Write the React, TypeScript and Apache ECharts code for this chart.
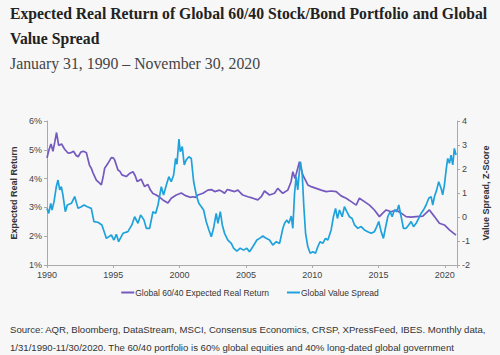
import React, { useEffect, useRef } from "react";
import * as echarts from "echarts";

const titleLine1 = "Expected Real Return of Global 60/40 Stock/Bond Portfolio and Global";
const titleLine2 = "Value Spread";
const subtitle = "January 31, 1990 – November 30, 2020";
const footLine1 = "Source: AQR, Bloomberg, DataStream, MSCI, Consensus Economics, CRSP, XPressFeed, IBES. Monthly data,";
const footLine2 = "1/31/1990-11/30/2020. The 60/40 portfolio is 60% global equities and 40% long-dated global government";

const seriesNames = ["Global 60/40 Expected Real Return", "Global Value Spread"];
const leftAxisName = "Expected Real Return";
const rightAxisName = "Value Spread, Z-Score";

// Global 60/40 expected real return (%), by decimal year
const returnDates = [
  1990.0, 1990.15, 1990.3, 1990.45, 1990.6, 1990.72, 1990.88, 1991.1, 1991.33, 1991.6, 1991.8,
  1992.0, 1992.2, 1992.35, 1992.55, 1992.75, 1992.97, 1993.2, 1993.35, 1993.47, 1993.72, 1993.97,
  1994.1, 1994.25, 1994.35, 1994.6, 1994.85, 1995.0, 1995.1, 1995.35, 1995.5, 1995.65, 1995.98,
  1996.23, 1996.48, 1996.65, 1996.8, 1997.1, 1997.36, 1997.6, 1997.8, 1997.99, 1998.24, 1998.5,
  1998.74, 1999.12, 1999.37, 1999.75, 2000.13, 2000.3, 2000.5, 2000.8, 2001.0, 2001.2, 2001.38,
  2001.76, 2002.13, 2002.4, 2002.64, 2003.01, 2003.2, 2003.39, 2003.6, 2003.77, 2004.14, 2004.4,
  2004.6, 2004.77, 2005.15, 2005.52, 2005.9, 2006.16, 2006.4, 2006.78, 2007.16, 2007.4, 2007.78,
  2008.16, 2008.41, 2008.54, 2008.7, 2009.04, 2009.29, 2009.67, 2009.92, 2010.3, 2010.68, 2011.05,
  2011.43, 2011.81, 2012.18, 2012.56, 2012.94, 2013.32, 2013.56, 2013.94, 2014.32, 2014.69,
  2015.07, 2015.32, 2015.58, 2015.95, 2016.33, 2016.71, 2017.08, 2017.46, 2017.84, 2018.34,
  2018.84, 2019.22, 2019.59, 2019.97, 2020.35, 2020.72, 2020.85,
];
const returnValues = [
  4.72, 5.0, 5.2, 4.95, 5.3, 5.6, 5.15, 5.2, 5.02, 4.88, 4.9,
  4.95, 4.8, 4.76, 4.92, 4.95, 4.9, 4.47, 4.35, 4.2, 3.95, 3.84,
  3.78, 4.1, 4.36, 4.53, 4.73, 4.72, 4.65, 4.3, 4.25, 4.13, 4.07,
  4.18, 4.24, 4.1, 3.9, 3.98, 3.72, 3.8, 3.6, 3.48, 3.43, 3.35,
  3.26, 3.15, 3.32, 3.43, 3.5, 3.45, 3.4, 3.35, 3.37, 3.35, 3.43,
  3.49, 3.6, 3.62, 3.55, 3.6, 3.55, 3.49, 3.62, 3.6, 3.55, 3.6,
  3.5, 3.43, 3.37, 3.32, 3.26, 3.37, 3.57, 3.43, 3.49, 3.66, 3.49,
  3.6, 3.9, 4.24, 4.0, 4.59, 4.13, 3.78, 3.72, 3.66, 3.6, 3.55,
  3.57, 3.55, 3.4, 3.32, 3.2, 3.08, 3.32, 3.2, 3.08, 2.91,
  2.68, 2.8, 2.91, 2.85, 2.91, 2.8, 2.68, 2.66, 2.68, 2.7,
  2.91, 2.68, 2.45, 2.39, 2.22, 2.08, 2.04,
];

// Global value spread (z-score), by decimal year
const spreadDates = [
  1990.0, 1990.13, 1990.28, 1990.38, 1990.53, 1990.7, 1990.83, 1990.96, 1991.08, 1991.2, 1991.38,
  1991.53, 1991.84, 1992.09, 1992.34, 1992.59, 1992.79, 1993.04, 1993.34, 1993.54, 1993.84, 1994.14,
  1994.35, 1994.48, 1994.85, 1995.05, 1995.23, 1995.4, 1995.73, 1996.1, 1996.4, 1996.61, 1996.86,
  1997.06, 1997.31, 1997.49, 1997.74, 1997.99, 1998.19, 1998.37, 1998.62, 1998.79, 1999.0, 1999.19,
  1999.37, 1999.55, 1999.7, 1999.8, 1999.95, 2000.05, 2000.2, 2000.35, 2000.5, 2000.7, 2000.88,
  2001.06, 2001.26, 2001.45, 2001.64, 2001.81, 2002.01, 2002.21, 2002.39, 2002.56, 2002.76, 2002.89,
  2003.07, 2003.22, 2003.39, 2003.64, 2003.9, 2004.07, 2004.32, 2004.57, 2004.82, 2005.07, 2005.27,
  2005.52, 2005.83, 2006.03, 2006.28, 2006.53, 2006.78, 2007.03, 2007.29, 2007.54, 2007.79, 2007.92,
  2008.09, 2008.24, 2008.42, 2008.54, 2008.67, 2008.79, 2008.91, 2009.04, 2009.12, 2009.25, 2009.37,
  2009.5, 2009.67, 2009.85, 2010.05, 2010.25, 2010.42, 2010.6, 2010.8, 2011.0, 2011.18, 2011.43,
  2011.6, 2011.76, 2011.9, 2012.06, 2012.26, 2012.43, 2012.61, 2012.81, 2013.01, 2013.19, 2013.44,
  2013.69, 2013.94, 2014.19, 2014.45, 2014.69, 2014.87, 2015.02, 2015.2, 2015.37, 2015.52, 2015.7,
  2015.88, 2016.03, 2016.2, 2016.38, 2016.53, 2016.71, 2016.88, 2017.08, 2017.28, 2017.46, 2017.64,
  2017.84, 2018.03, 2018.21, 2018.39, 2018.59, 2018.79, 2018.97, 2019.09, 2019.22, 2019.39, 2019.54,
  2019.72, 2019.84, 2019.97, 2020.1, 2020.22, 2020.35, 2020.47, 2020.6, 2020.72, 2020.85,
];
const spreadValues = [
  0.36, 0.15, 0.57, 0.29, 0.64, 1.26, 1.54, 1.13, 1.26, 0.92, 0.22,
  0.5, 0.57, 0.85, 0.36, 0.43, 0.5, 0.43, 0.36, -0.19, -0.22, -0.33,
  -0.68, -0.89, -0.75, -0.96, -0.72, -1.03, -0.68, -0.61, -0.33, 0.01, -0.26,
  0.08, -0.12, -0.47, -0.47, 0.22, 0.15, 0.5, 1.26, 0.92, 1.33, 1.68,
  1.47, 1.75, 2.44, 2.2, 3.25, 2.72, 2.93, 2.17, 2.38, 2.51, 2.44,
  1.47, 0.92, 0.57, 0.43, 0.29, -0.2, -0.54, -0.82, -0.47, 0.15, -0.26,
  0.22, -0.33, -0.68, -0.96, -1.1, -1.3, -1.42, -1.3, -1.38, -1.3, -1.45,
  -1.24, -0.96, -0.89, -0.79, -0.89, -0.96, -1.17, -1.03, -1.1, -0.47, -0.26,
  -0.13, -0.26, 0.04, -0.47, 0.99, 1.68, 1.13, 1.96, 2.3, 1.75, 0.43,
  -0.68, -1.24, -1.51, -1.45, -1.51, -1.24, -1.03, -1.1, -0.89, -0.96, -0.54,
  0.01, 0.36, -0.06, 0.29, 0.01, 0.43, 0.22, 0.01, -0.06, -0.33, -0.47,
  -0.4, -0.54, -0.61, -0.68, -0.61, -0.4, -0.19, -0.61, -0.89, -0.47, 0.01,
  0.22, 0.01, 0.29, 0.22, 0.5, 0.01, -0.47, -0.47, -0.33, -0.19, -0.4,
  -0.26, -0.06, 0.15, 0.29, 0.5, 0.78, 0.85, 0.5, 0.85, 1.13, 1.47,
  1.2, 0.92, 1.33, 1.96, 2.44, 2.24, 2.58, 2.17, 2.86, 2.58,
];

const xStart = 1990;
const xEnd = 2020.92;

const PURPLE = "#7459be";
const BLUE = "#1ea2dc";
const BG = "#f7f7f7";

export default function App() {
  const ref = useRef<HTMLDivElement>(null);

  useEffect(() => {
    if (!ref.current) return;
    const chart = echarts.init(ref.current, undefined, { renderer: "svg" });
    const sans = "'Liberation Sans', Arial, sans-serif";
    const serif = "'Liberation Serif', 'Times New Roman', serif";
    chart.setOption({
      animation: false,
      backgroundColor: BG,
      graphic: [
        { type: "text", left: 10, top: 5, style: { text: titleLine1, font: `bold 15.7px ${serif}`, fill: "#222" } },
        { type: "text", left: 10, top: 30, style: { text: titleLine2, font: `bold 15.7px ${serif}`, fill: "#222" } },
        { type: "text", left: 10, top: 55, style: { text: subtitle, font: `15.8px ${serif}`, fill: "#444" } },
        { type: "text", left: 10, top: 324, style: { text: footLine1, font: `9.6px ${sans}`, fill: "#333" } },
        { type: "text", left: 10, top: 342, style: { text: footLine2, font: `9.6px ${sans}`, fill: "#333" } },
      ],
      legend: {
        top: 283,
        left: "center",
        itemWidth: 13,
        itemHeight: 2,
        itemGap: 18,
        icon: "rect",
        textStyle: { fontFamily: sans, fontSize: 8.5, color: "#333", padding: [0, 0, 0, -4] },
        data: seriesNames,
      },
      grid: { left: 47, right: 43, top: 121, bottom: 90 },
      xAxis: {
        type: "value",
        min: xStart,
        max: xEnd,
        interval: 5,
        splitLine: { show: false },
        axisLine: { show: true, onZero: false, lineStyle: { color: "#aaa", width: 1 } },
        axisTick: { show: true, length: 3, lineStyle: { color: "#aaa" } },
        axisLabel: {
          fontFamily: sans,
          fontSize: 9,
          color: "#444",
          margin: 5,
          formatter: (v: number) => (Math.abs(v % 5) < 1e-6 ? String(v) : ""),
        },
      },
      yAxis: [
        {
          type: "value",
          min: 1,
          max: 6,
          interval: 1,
          name: leftAxisName,
          nameLocation: "middle",
          nameGap: 27,
          nameRotate: 90,
          nameTextStyle: { fontFamily: sans, fontSize: 9, fontWeight: "bold", color: "#333" },
          splitLine: { show: false },
          axisLine: { show: true, lineStyle: { color: "#aaa", width: 1 } },
          axisTick: { show: true, length: 3, lineStyle: { color: "#aaa" } },
          axisLabel: { fontFamily: sans, fontSize: 9, color: "#444", margin: 5, formatter: "{value}%" },
        },
        {
          type: "value",
          min: -2,
          max: 4,
          interval: 1,
          position: "right",
          name: rightAxisName,
          nameLocation: "middle",
          nameGap: 24,
          nameRotate: 90,
          nameTextStyle: { fontFamily: sans, fontSize: 9, fontWeight: "bold", color: "#333" },
          splitLine: { show: false },
          axisLine: { show: true, lineStyle: { color: "#aaa", width: 1 } },
          axisTick: { show: true, length: 3, lineStyle: { color: "#aaa" } },
          axisLabel: { fontFamily: sans, fontSize: 9, color: "#444", margin: 5 },
        },
      ],
      series: [
        {
          name: seriesNames[0],
          type: "line",
          yAxisIndex: 0,
          showSymbol: false,
          symbol: "none",
          lineStyle: { color: PURPLE, width: 1.7 },
          itemStyle: { color: PURPLE },
          data: returnDates.map((d, i) => [d, returnValues[i]]),
        },
        {
          name: seriesNames[1],
          type: "line",
          yAxisIndex: 1,
          showSymbol: false,
          symbol: "none",
          lineStyle: { color: BLUE, width: 1.7 },
          itemStyle: { color: BLUE },
          data: spreadDates.map((d, i) => [d, spreadValues[i]]),
        },
      ],
    });
    return () => chart.dispose();
  }, []);

  return (
    <div
      ref={ref}
      style={{ position: "fixed", left: 0, top: 0, width: 500, height: 355, background: BG }}
    />
  );
}
